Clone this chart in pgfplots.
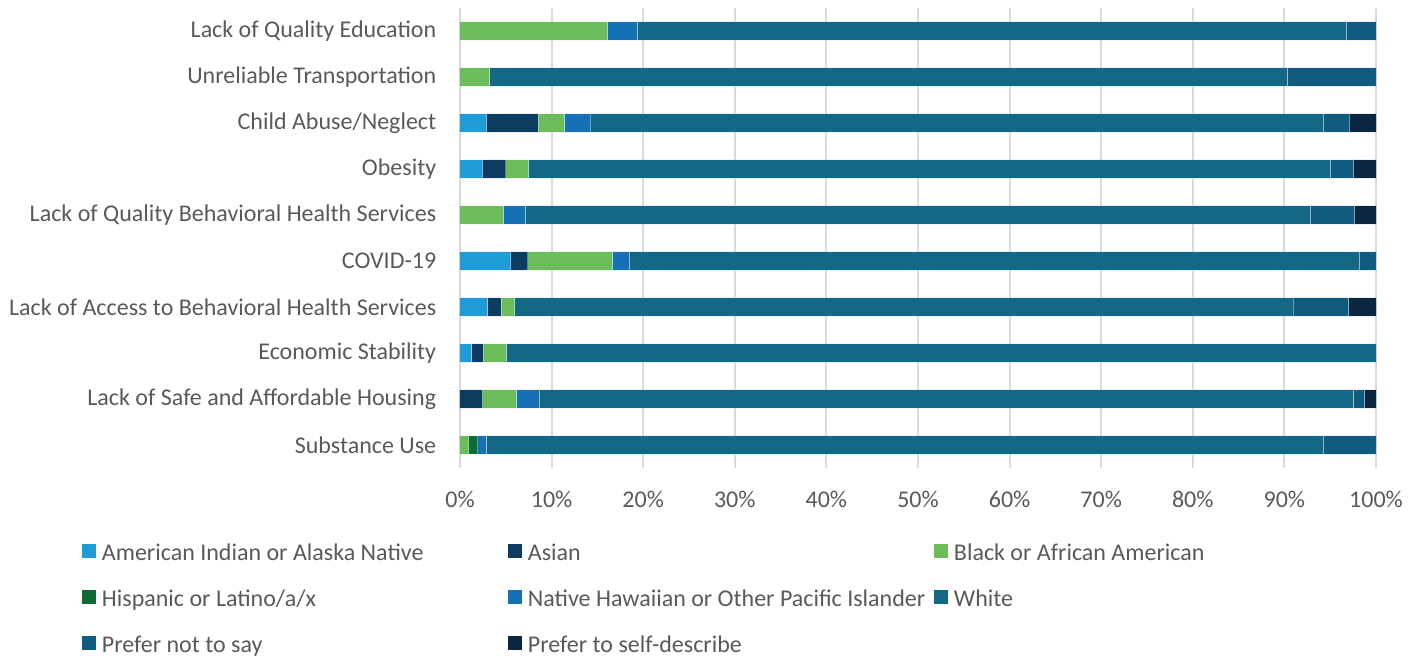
\documentclass[border=0pt]{standalone}
\usepackage{fontspec}
\setmainfont{Carlito}
\usepackage{pgfplots}
\usepackage{pgfplotstable}
\pgfplotsset{compat=1.18}
\usetikzlibrary{calc}
\definecolor{txt}{HTML}{595959}
\definecolor{grd}{HTML}{D9D9D9}
\definecolor{caian}{HTML}{1E9CD7}
\definecolor{casian}{HTML}{0D3C61}
\definecolor{cblack}{HTML}{6ABD5A}
\definecolor{chisp}{HTML}{0F6B38}
\definecolor{cnhpi}{HTML}{1471B6}
\definecolor{cwhite}{HTML}{136886}
\definecolor{cpref}{HTML}{125B80}
\definecolor{cself}{HTML}{0A2640}
\newcommand{\LE}[1]{\makebox[200pt][l]{#1}}
\pgfplotstableread{
y aian asian black hisp nhpi white pref self
0 0 0 0.96 0.96 0.96 91.35 5.77 0
1 0 2.47 3.70 0 2.47 88.89 1.23 1.24
2 1.27 1.27 2.53 0 0 94.93 0 0
3 2.99 1.49 1.49 0 0 85.07 5.97 2.99
4 5.56 1.85 9.26 0 1.85 79.63 1.85 0
5 0 0 4.76 0 2.38 85.72 4.76 2.38
6 2.5 2.5 2.5 0 0 87.5 2.5 2.5
7 2.86 5.71 2.86 0 2.86 80.0 2.86 2.85
8 0 0 3.23 0 0 87.10 9.67 0
9 0 0 16.13 0 3.23 77.42 3.22 0
}\data
\begin{document}
\fontsize{12pt}{14pt}\selectfont
\color{txt}
\begin{tikzpicture}
\begin{axis}[
  scale only axis,
  width=458pt, height=230pt,
  xbar stacked,
  bar width=9.15pt,
  xmin=0, xmax=100,
  ymin=-0.5, ymax=9.5,
  xtick={0,10,...,100},
  xticklabel={\pgfmathprintnumber{\tick}\%},
  ytick={0,...,9},
  yticklabels={Substance Use, Lack of Safe and Affordable Housing, Economic Stability, Lack of Access to Behavioral Health Services, COVID-19, Lack of Quality Behavioral Health Services, Obesity, Child Abuse/Neglect, Unreliable Transportation, Lack of Quality Education},
  axis line style={draw=none},
  major tick length=0pt,
  xmajorgrids,
  major grid style={grd, line width=1pt},
  tick label style={font=\fontsize{12pt}{14pt}\selectfont, text=txt},
  /pgf/number format/assume math mode=true,
  xticklabel style={yshift=-7.5pt},
  yticklabel style={xshift=-7.7pt},
  every axis plot/.append style={draw=white, draw opacity=0.35, line width=0.5pt},
  legend columns=3,
  legend cell align=left,
  legend image code/.code={\fill[#1, draw=none] (0pt,-1.5pt) rectangle (7pt,5.5pt);},
  legend style={
    draw=none, fill=none, inner sep=0pt, outer sep=0pt,
    at={(axis description cs:-0.4127,-0.163)}, anchor=north west,
    font=\fontsize{12pt}{14pt}\selectfont, text=txt,
    nodes={inner xsep=3pt, inner ysep=0pt, text height=9pt, text depth=3pt},
    /tikz/every even column/.append style={column sep=0pt},
    /tikz/every odd column/.append style={column sep=0pt},
    row sep=11pt,
  },
]
\addplot[fill=caian] table[x=aian,y=y]{\data};
\addplot[fill=casian] table[x=asian,y=y]{\data};
\addplot[fill=cblack] table[x=black,y=y]{\data};
\addplot[fill=chisp] table[x=hisp,y=y]{\data};
\addplot[fill=cnhpi] table[x=nhpi,y=y]{\data};
\addplot[fill=cwhite] table[x=white,y=y]{\data};
\addplot[fill=cpref] table[x=pref,y=y]{\data};
\addplot[fill=cself] table[x=self,y=y]{\data};
\legend{\LE{American Indian or Alaska Native}, \LE{Asian}, \LE{Black or African American}, \LE{Hispanic or Latino/a/x}, \LE{Native Hawaiian or Other Pacific Islander}, \LE{White}, \LE{Prefer not to say}, \LE{Prefer to self-describe}}
\coordinate (BL) at (rel axis cs:0,0);
\end{axis}
\pgfresetboundingbox
\path[use as bounding box] ($(BL)+(-230pt,-94pt)$) rectangle ($(BL)+(479.5pt,234pt)$);
\end{tikzpicture}
\end{document}
